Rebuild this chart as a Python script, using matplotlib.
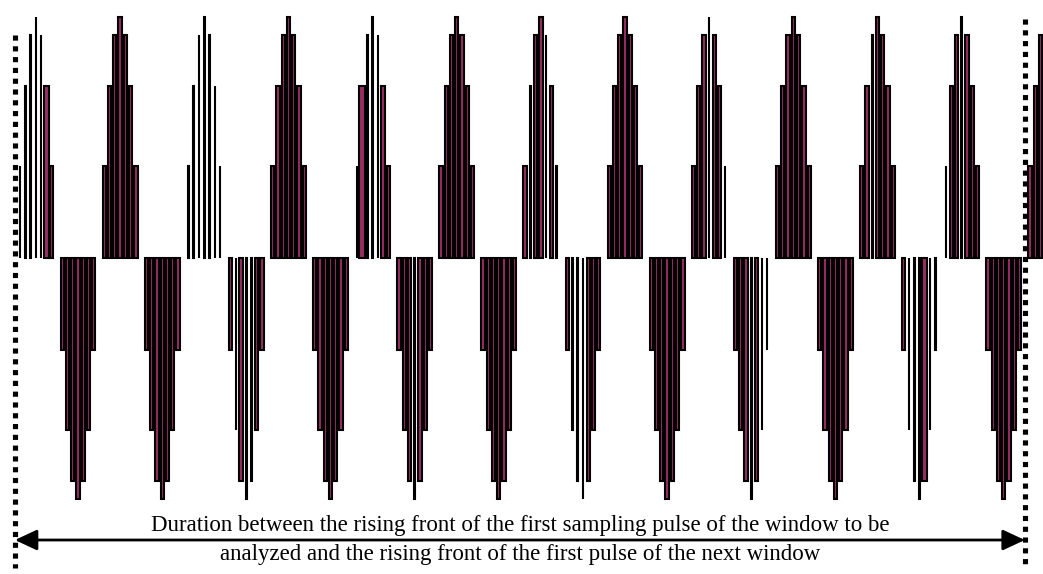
import matplotlib
matplotlib.use("Agg")
import matplotlib.pyplot as plt

# ---- data ----
# one period = 16 samples: 0, rising half, 0, falling half (fraction of peak)
cycle_heights = [0.0, 0.382, 0.714, 0.925, 1.0, 0.925, 0.714, 0.382,
                 0.0, -0.382, -0.714, -0.925, -1.0, -0.925, -0.714, -0.382]
n_samples = 196            # samples drawn (window = 192 samples + start of next)
window_len = 192

# pulse width class for each half-period group (7 pulses each)
# F = full pulse, N = narrow pulse, W = wide pulse
pos_groups = ["NNNNNWF", "FFFFFFF", "NNNNNNN", "FFFFFFF", "NWNNNFF",
              "FFFFFFF", "FNFFNFN", "FFFFFFF", "FFFNFFN", "FFFFFFF",
              "FFNFFFF", "NFFNFFF", "FFF"]
neg_groups = ["FFFFFFF", "FFFFFFF", "FNFNNFF", "FFFFFFF", "FFFNFFF",
              "FFFFFFF", "FNNNFFF", "FFFFFFF", "FFFNFNN", "FFFFFFF",
              "FNNNWNN", "FFFFFFF"]
width_of = {"F": 0.62, "N": 0.1, "W": 1.0}

caption_1 = "Duration between the rising front of the first sampling pulse of the window to be"
caption_2 = "analyzed and the rising front of the first pulse of the next window"

fill_color = "#9B2D65"

# ---- build sample list ----
ks, hs, ws = [], [], []
for k in range(1, n_samples):
    h = cycle_heights[k % 16]
    if h == 0:
        continue
    period = k // 16
    pos = (k % 16) < 8
    idx = (k % 8) - 1
    code_str = pos_groups[period] if pos else neg_groups[period]
    if idx >= len(code_str):
        continue
    ks.append(k)
    hs.append(h)
    ws.append(width_of[code_str[idx]])

fig = plt.figure(figsize=(10.43, 5.74), dpi=100)
ax = fig.add_axes([0, 0, 1, 1])
ax.set_xlim(-2.833, 195.46)
ax.set_ylim(-1.311, 1.0705)
ax.axis("off")

ax.bar(ks, hs, width=ws, color=fill_color, edgecolor="black",
       linewidth=1.5, zorder=2)

# window boundaries
ax.plot([0, 0], [0.925, -1.285], color="black", lw=3.7,
        ls=(0, (1.0, 1.1)), zorder=3)
ax.plot([window_len, window_len], [0.992, -1.285], color="black", lw=3.7,
        ls=(0, (1.0, 1.1)), zorder=3)

# duration arrow
ax.annotate("", xy=(0, -1.17), xytext=(window_len, -1.17),
            arrowprops=dict(arrowstyle="<|-|>,head_length=0.9,head_width=0.42",
                            mutation_scale=15, lw=2, color="black",
                            shrinkA=0, shrinkB=0), zorder=4)

ax.text(window_len / 2, -1.132, caption_1, ha="center", va="baseline",
        fontsize=16.5, family="Liberation Serif", color="black")
ax.text(window_len / 2, -1.252, caption_2, ha="center", va="baseline",
        fontsize=16.5, family="Liberation Serif", color="black")

fig.savefig("out.png", dpi=100)
